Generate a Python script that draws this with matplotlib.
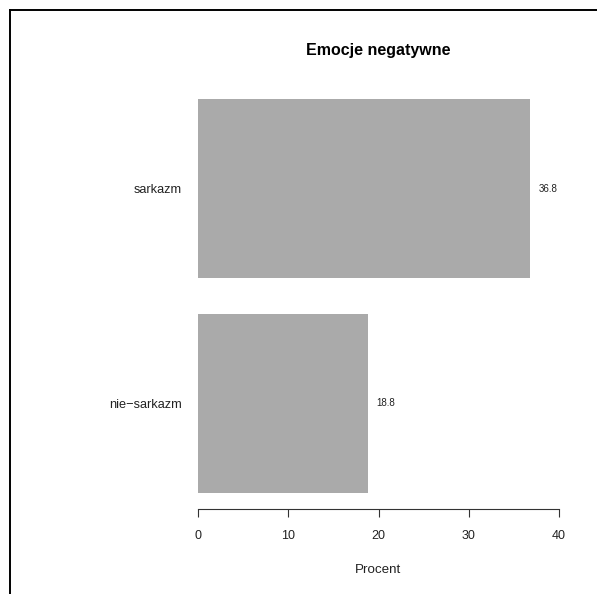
import matplotlib
matplotlib.use("Agg")
import matplotlib.pyplot as plt
from matplotlib.lines import Line2D

categories = ["nie−sarkazm", "sarkazm"]
values = [18.8, 36.8]
xticks = [0, 10, 20, 30, 40]
title = "Emocje negatywne"
xlabel = "Procent"

plt.rcParams['font.family'] = ['Liberation Sans', 'DejaVu Sans']

W, H = 597, 594
fig = plt.figure(figsize=(W / 100, H / 100), dpi=100)

# plot region in pixels (from top-left)
left_px, right_px = 198, 559
top_px, bot_px = 83.2, 508.8
ax = fig.add_axes([left_px / W, 1 - bot_px / H, (right_px - left_px) / W, (bot_px - top_px) / H])

pos = [0.7, 1.9]
ax.barh(pos, values, height=1.0, color="#aaaaaa", edgecolor="none")
ax.set_xlim(0, 40)
ax.set_ylim(0.112, 2.488)

for p, v in zip(pos, values):
    ax.text(v + 2, p, f"{v:.1f}", ha="center", va="center", fontsize=7, color="#222222")

for s in ["top", "right", "left"]:
    ax.spines[s].set_visible(False)
ax.spines["bottom"].set_bounds(0, 40)
ax.spines["bottom"].set_linewidth(0.8)
ax.spines["bottom"].set_color("#333333")
ax.set_xticks(xticks)
ax.set_xticklabels([str(t) for t in xticks], fontsize=9)
ax.tick_params(axis="x", length=5.8, width=0.8, color="#333333", pad=9.5, labelcolor="#222222")
ax.set_yticks(pos)
ax.set_yticklabels(categories, fontsize=9.2, color="#222222")
ax.tick_params(axis="y", length=0, pad=11.5)

ax.set_xlabel(xlabel, fontsize=9.6, labelpad=15.5, color="#222222")
fig.text((left_px + right_px) / 2 / W, 1 - 50.5 / H, title, ha="center", va="center",
         fontsize=11.5, fontweight="bold")

# frame lines (top and left)
fig.add_artist(Line2D([9.5 / W, 9.5 / W], [0, 1 - 9.5 / H], transform=fig.transFigure, color="black", lw=1.4))
fig.add_artist(Line2D([9.5 / W, 1], [1 - 9.5 / H, 1 - 9.5 / H], transform=fig.transFigure, color="black", lw=1.4))

fig.savefig("out.png", dpi=100)
